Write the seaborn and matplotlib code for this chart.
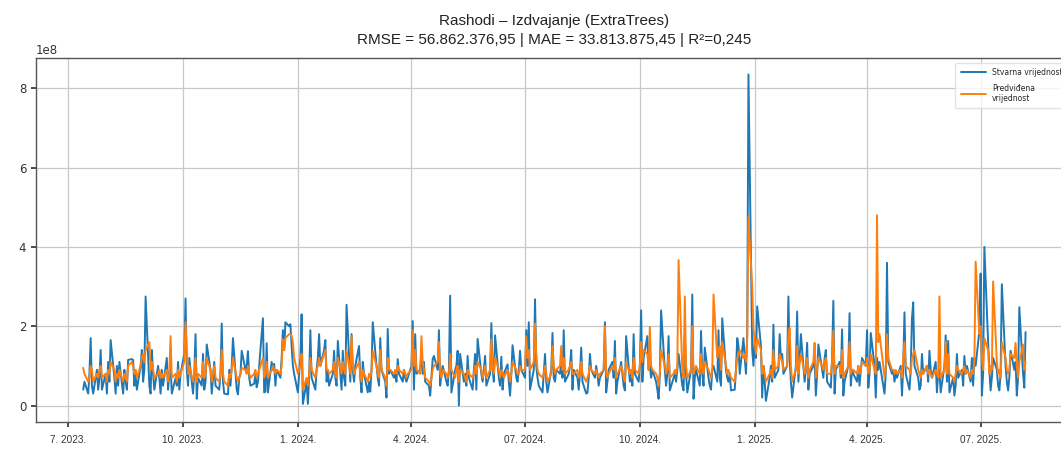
import matplotlib
matplotlib.use("Agg")
import matplotlib.pyplot as plt
import seaborn as sns
import pandas as pd
import numpy as np

# Values in units of 1e7
actual_1 = [4, 6, 3, 8, 17, 5, 3, 9, 4, 7,
            14, 4, 8, 3, 11, 6, 16.5, 7, 3, 10,
            5, 11, 3, 9, 6, 4, 11.5, 11.7, 11.5, 5,
            8, 4, 10, 14, 6, 9, 27.5, 5, 3, 14,
            8, 4, 10, 7, 3, 9, 5, 12, 4, 8,
            10, 3, 7, 5, 11, 4, 8, 13, 27, 9,
            5, 12, 3, 8, 18, 1.7, 7, 5, 13, 4,
            6, 15.4, 9, 3, 7, 11, 5, 4, 8, 20.7,
            6, 3, 2.8, 9, 5, 10, 17, 4, 2.8, 7,
            8, 13.8]
actual_2 = [9, 10, 13.7, 7, 5, 5.5, 8, 4.6, 6, 10,
            22, 3.3, 3.5, 15.7, 3.3, 11, 9, 10.5, 5, 9,
            7, 12, 19, 14, 21, 20, 20.5, 15, 10, 8,
            3.3, 8, 12, 23, 0.4, 6, 0.4, 7, 19, 7,
            4, 9, 12, 18, 10, 14, 16.5, 6, 9, 5,
            8, 13.8, 7, 5, 16.3, 4, 13.8, 7, 5, 25.4,
            6, 18, 9, 6, 10, 15, 7, 3.3, 11, 8,
            3.3, 6, 3.5, 9, 21, 10, 7, 5, 17, 9,
            6, 2, 19.3, 8, 9, 7, 8, 6, 11.7, 8,
            6, 9, 7, 6]
actual_3 = [7, 10, 21.3, 4, 18, 8, 9, 14, 8, 11,
            6, 5, 2.5, 7, 11.7, 12.5, 9, 19, 5, 8,
            10, 6, 5, 9, 27.7, 3.3, 9, 10, 13.8, 0,
            13, 6, 8, 5, 12.5, 7, 4, 9, 13, 4,
            16.8, 8, 6, 9, 12.5, 5, 8, 20.8, 9, 6,
            17.7, 7, 5, 12.3, 4, 8, 10.4, 6, 2.5, 8,
            15.2, 7, 6, 9, 13.8, 9, 7, 19, 10, 21,
            4, 9, 26.8, 10, 7, 5, 3.3, 8, 13, 6,
            3.3, 9, 18.3, 7, 6, 9, 8, 11, 7, 19,
            6, 8, 10, 14, 4]
actual_4 = [9, 7, 4, 8, 14.6, 6, 3, 3.2, 7, 13,
            9, 7, 10, 8, 5, 7, 9, 21, 3.3, 6,
            9, 11, 7, 16.3, 3, 6, 11, 8, 5, 3.8,
            17.5, 6, 9, 5, 18, 8, 6, 10, 24, 6,
            12, 17.5, 9, 10, 7, 9, 6, 4, 1.7, 8,
            24, 9, 5, 8, 17.5, 3.8, 7, 8, 6, 9,
            13, 5, 3.8, 18, 8, 3.3, 9, 28, 1.7, 7,
            9, 5, 18.8, 8, 5, 14.6, 7, 5, 4, 9,
            10, 6, 19, 7, 5, 22, 9, 7, 6, 8,
            3.8, 4, 9, 17]
actual_5 = [15, 8, 17, 12, 8, 18, 83.5, 14, 10, 17,
            12, 25, 15, 2, 10, 6, 1.2, 7, 10, 6,
            20.4, 7, 9, 18, 12, 13, 8, 10, 27.5, 12,
            6, 2, 10, 23.7, 6, 12, 18, 6, 9, 15.8,
            4, 8, 10, 11, 2.5, 8, 15.4, 9, 7, 12,
            14, 6, 4.5, 12, 26.4, 3, 9, 11, 7, 19.2,
            2.5, 6, 10, 23.3, 5, 9, 8, 6, 10, 5,
            9, 12, 10, 19, 4.5, 8, 18.3, 10, 2, 12,
            9, 11, 5, 3, 8, 36, 11, 8, 9, 6,
            8, 7, 10, 2.5]
actual_6 = [10, 23.5, 8, 4, 9, 22, 26, 10, 7, 4,
            5, 13, 8, 10, 6, 13.8, 9, 7, 11, 3.3,
            8, 9, 3.3, 10, 17.7, 6, 16.3, 3.3, 7, 2.5,
            5, 13, 7, 9, 5, 12.5, 8, 10, 6, 12,
            5, 12, 10, 18.8, 33.3, 2.5, 8, 40, 16, 9,
            3.8, 7, 12, 9, 5, 3.8, 8, 30.6, 10, 6,
            3.8, 7, 13.8, 9, 11, 2.5, 7, 24.8, 8, 4.5,
            18.5]

pred_1 = [9.5, 8, 6, 7, 10, 9, 6, 8, 7, 9,
          10, 7, 8, 6, 9, 8, 11, 9, 6, 8,
          7, 9, 6, 8, 7, 6, 10, 11, 10, 8,
          9, 7, 10, 12, 13, 11, 14, 16, 9, 11,
          9, 7, 8, 9, 7, 8, 7, 9, 6, 8,
          17.5, 7, 8, 6, 9, 7, 8, 11, 21, 14,
          8, 10, 6, 8, 12, 6, 8, 7, 11, 7,
          8, 12, 9, 6, 8, 10, 7, 6, 8, 14,
          8, 6, 5, 8, 7, 9, 12, 7, 6, 7,
          8, 9.5]
pred_2 = [9, 8, 10, 8, 7, 8, 9, 7, 8, 9,
          12, 7, 8, 11, 7, 9, 10, 9, 8, 9,
          8, 10, 16.7, 14, 17, 18, 18, 17.5, 16, 12,
          8, 9, 10, 13, 4, 7, 5, 8, 12, 9,
          7, 9, 10, 12, 10, 13, 14, 9, 9, 8,
          9, 11, 8, 7, 12, 8, 11, 9, 8, 14,
          8, 17.5, 10, 8, 9, 11, 8, 6, 9, 8,
          6, 8, 7, 9, 13.8, 10, 8, 7, 14, 9,
          7, 5, 12, 9, 9, 8, 9, 8, 10, 9,
          8, 9, 8, 7]
pred_3 = [8, 9, 19, 10, 14, 9, 8, 17.5, 11, 9,
          7, 6, 5, 7, 9, 10, 11, 16, 8, 7,
          9, 8, 7, 8, 13, 9, 7, 9, 10, 6,
          9, 8, 7, 6, 9, 8, 7, 8, 10, 8,
          11, 9, 7, 8, 10, 7, 9, 16.7, 10, 8,
          12, 9, 7, 9, 8, 7, 9, 8, 6, 8,
          11, 9, 8, 8, 10, 9, 9, 17.5, 12, 14,
          9, 11, 20.7, 13, 9, 8, 7, 8, 10, 8,
          6, 8, 15, 10, 8, 9, 10, 15, 9, 12,
          8, 9, 10, 11, 8]
pred_4 = [8, 9, 7, 8, 11, 8, 6, 7, 8, 10,
          9, 8, 9, 8, 7, 8, 9, 20, 8, 7,
          8, 10, 9, 12, 7, 8, 10, 9, 7, 6,
          11, 8, 9, 7, 12, 9, 8, 10, 16, 11,
          14, 13, 9, 19.8, 10, 9, 8, 7, 5, 8,
          14, 10, 8, 9, 13, 7, 8, 9, 8, 10,
          36.7, 9, 7, 27.5, 10, 7, 9, 20, 8, 9,
          10, 8, 13, 9, 8, 11, 9, 8, 7, 9,
          28, 12, 14, 15, 9, 16, 10, 8, 9, 8,
          7, 6, 9, 12]
pred_5 = [13, 14, 12, 13, 11, 17, 47.5, 30, 19.6, 16,
          13, 17, 14, 8, 10, 8, 6, 8, 9, 7,
          14, 9, 10, 13, 12, 11, 9, 10, 18, 19.6,
          10, 6, 9, 15, 8, 11, 13, 8, 9, 12,
          7, 9, 11, 15.8, 7, 9, 12, 10, 9, 11,
          12, 8, 8, 11, 18.8, 8, 10, 10, 8, 14,
          7, 8, 10, 16, 8, 9, 9, 8, 10, 8,
          9, 11, 10, 12, 8, 9, 13, 9, 8, 48,
          16, 18, 10, 7, 9, 18, 12, 9, 9, 8,
          9, 8, 9, 7]
pred_6 = [12, 16, 10, 9, 8, 12, 13, 14, 9, 8,
          7, 9, 8, 10, 8, 9, 8, 7, 9, 8,
          7, 27.5, 7, 9, 16, 8, 13, 8, 7, 6,
          8, 10, 9, 8, 9, 10, 8, 9, 7, 9,
          8, 11, 36.3, 18, 20, 12, 9, 17, 14, 8,
          10, 9, 31.3, 11, 8, 9, 7, 16, 12, 9,
          8, 9, 13, 12, 15.8, 10, 7, 11, 15.4, 9,
          11]

unit = 1e7
actual = np.array(actual_1 + actual_2 + actual_3 + actual_4 + actual_5 + actual_6) * unit
predicted = np.array(pred_1 + pred_2 + pred_3 + pred_4 + pred_5 + pred_6) * unit
start_date = "2023-07-13"
dates = pd.bdate_range(start=start_date, periods=len(actual))

tick_dates = ["2023-07-01", "2023-10-01", "2024-01-01", "2024-04-01", "2024-07-01",
              "2024-10-01", "2025-01-01", "2025-04-01", "2025-07-01"]
tick_labels = ["7. 2023.", "10. 2023.", "1. 2024.", "4. 2024.", "07. 2024.",
               "10. 2024.", "1. 2025.", "4. 2025.", "07. 2025."]

title_text = "Rashodi – Izdvajanje (ExtraTrees)\nRMSE = 56.862.376,95 | MAE = 33.813.875,45 | R²=0,245"
label_actual = "Stvarna vrijednost"
label_pred = "Predviđena\nvrijednost"

sns.set_theme(style="ticks")
plt.rcParams["font.family"] = ["DejaVu Sans"]
narrow = ["Liberation Sans", "DejaVu Sans"]

df = pd.DataFrame({"date": dates, "actual": actual, "predicted": predicted})

fig = plt.figure(figsize=(10.61, 4.49), dpi=100)
ax = fig.add_axes([0.034, 0.060, 0.977, 0.811])

sns.lineplot(data=df, x="date", y="actual", ax=ax, color="#1f77b4",
             linewidth=1.4, label=label_actual)
sns.lineplot(data=df, x="date", y="predicted", ax=ax, color="#ff7f0e",
             linewidth=1.4, label=label_pred)

ax.grid(True, color="#c8c8c8", linewidth=0.9)
ax.set_xlabel("")
ax.set_ylabel("")
ax.set_xticks(pd.to_datetime(tick_dates))
ax.set_xticklabels(tick_labels, fontsize=7.2, family=narrow, color="#333333")
ax.tick_params(axis="y", labelsize=8.5, length=3.5, color="#333333", labelcolor="#333333")
ax.tick_params(axis="x", length=3.5, color="#333333", pad=6)
ax.yaxis.get_offset_text().set_fontsize(8.5)
ax.yaxis.get_offset_text().set_color("#333333")
for s in ax.spines.values():
    s.set_color("#555555")
    s.set_linewidth(1.0)

ax.set_title(title_text, fontsize=11, family=narrow, linespacing=1.5, pad=10,
             color="#222222")

leg = ax.legend(loc="upper right", fontsize=5.5, handlelength=3.3,
                labelspacing=0.9, frameon=True, borderaxespad=0.6,
                borderpad=0.7)
leg.get_frame().set_edgecolor("#dddddd")

fig.savefig("out.png", dpi=100)
